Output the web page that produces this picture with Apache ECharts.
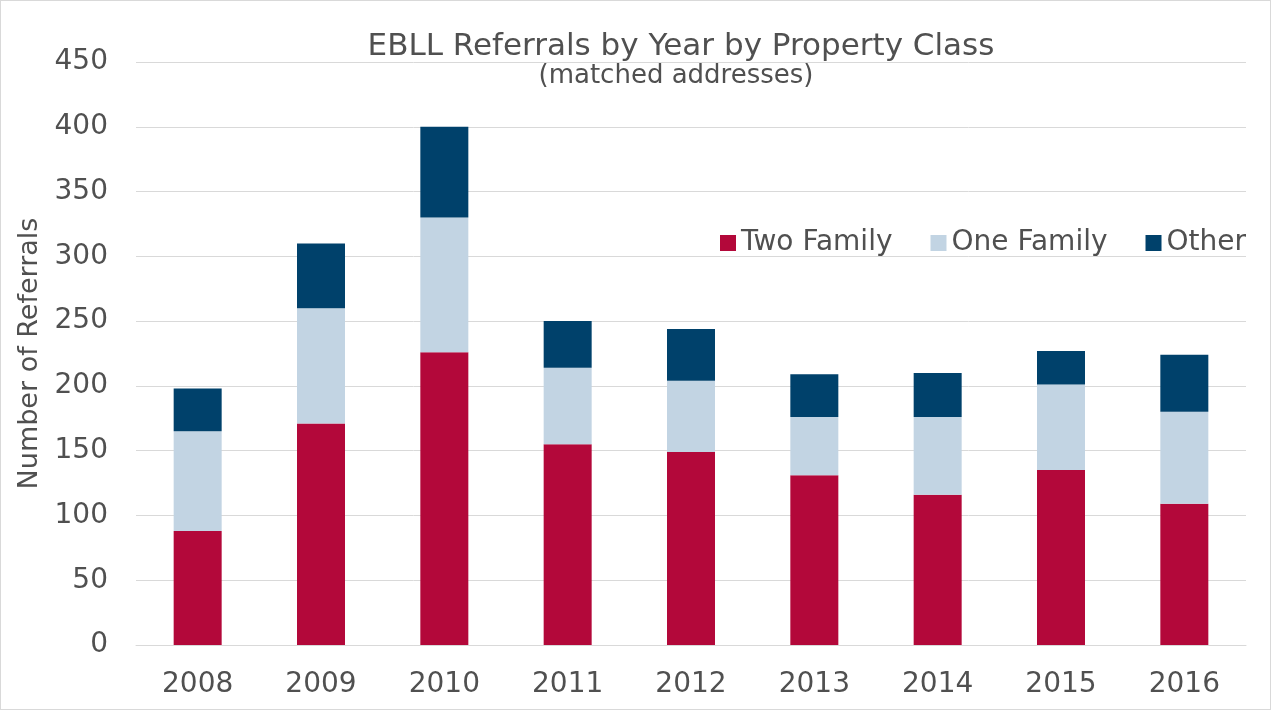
<!DOCTYPE html>
<html>
<head>
<meta charset="utf-8">
<script src="https://cdn.jsdelivr.net/npm/echarts@6/dist/echarts.min.js"></script>
<style>
  html, body { margin: 0; padding: 0; background: #fff; }
  #main { width: 1271px; height: 710px; box-sizing: border-box; border: 1px solid #d9d9d9; }
</style>
</head>
<body>
<div id="main"></div>
<script>
const years = ['2008', '2009', '2010', '2011', '2012', '2013', '2014', '2015', '2016']
const twoFamily = [88, 171, 226, 155, 149, 131, 116, 135, 109]
const oneFamily = [77, 89, 104, 59, 55, 45, 60, 66, 71]
const other = [33, 50, 70, 36, 40, 33, 34, 26, 44]

const colors = ['#b3083a', '#c2d4e3', '#00416b']
const font = '"DejaVu Sans", sans-serif'
const textColor = '#505050'

const chart = echarts.init(document.getElementById('main'))
chart.setOption({
  color: colors,
  textStyle: { fontFamily: font },
  title: [
    {
      text: 'EBLL Referrals by Year by Property Class',
      left: 675,
      top: 25,
      textAlign: 'center',
      textStyle: { fontFamily: font, fontSize: 31, fontWeight: 'normal', color: textColor }
    },
    {
      text: '(matched addresses)',
      left: 670,
      top: 57,
      textAlign: 'center',
      textStyle: { fontFamily: font, fontSize: 26, fontWeight: 'normal', color: textColor }
    }
  ],
  legend: {
    left: 714,
    top: 223,
    icon: 'rect',
    itemWidth: 16,
    itemHeight: 16,
    itemGap: 38,
    textStyle: { fontFamily: font, fontSize: 28, color: textColor },
    data: ['Two Family', 'One Family', 'Other']
  },
  grid: { left: 135, right: 24, top: 61, bottom: 64 },
  xAxis: {
    type: 'category',
    data: years,
    axisTick: { show: false },
    axisLine: { lineStyle: { color: '#d9d9d9' } },
    axisLabel: { fontFamily: font, fontSize: 28, color: textColor, margin: 26 }
  },
  yAxis: {
    type: 'value',
    min: 0,
    max: 450,
    interval: 50,
    name: 'Number of Referrals',
    nameLocation: 'middle',
    nameGap: 92,
    nameTextStyle: { fontFamily: font, fontSize: 27, color: textColor },
    axisLine: { show: false },
    axisTick: { show: false },
    splitLine: { lineStyle: { color: '#d9d9d9' } },
    axisLabel: { fontFamily: font, fontSize: 28, color: textColor, margin: 28 }
  },
  series: [
    { name: 'Two Family', type: 'bar', stack: 'total', barWidth: 48, data: twoFamily },
    { name: 'One Family', type: 'bar', stack: 'total', barWidth: 48, data: oneFamily },
    { name: 'Other', type: 'bar', stack: 'total', barWidth: 48, data: other }
  ]
})
</script>
</body>
</html>
